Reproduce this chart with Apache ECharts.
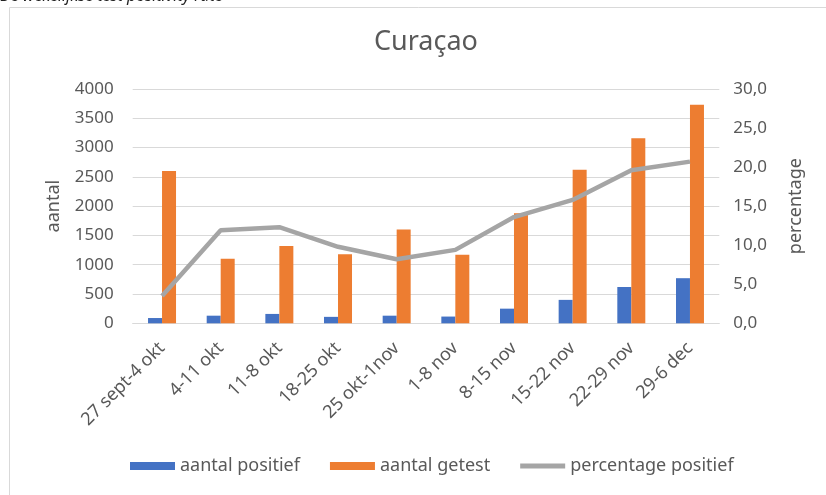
<!DOCTYPE html>
<html>
<head>
<meta charset="utf-8">
<script src="https://cdn.jsdelivr.net/npm/echarts@6/dist/echarts.min.js"></script>
<style>html,body{margin:0;padding:0;background:#fff}#c{width:826px;height:495px}</style>
</head>
<body>
<div id="c"></div>
<script>
const categories = ['27 sept-4 okt','4-11 okt','11-8 okt','18-25 okt','25 okt-1nov','1-8 nov','8-15 nov','15-22 nov','22-29 nov','29-6 dec'];
const aantalPositief = [90,130,160,110,130,115,250,400,620,770];
const aantalGetest = [2600,1100,1320,1180,1600,1170,1880,2620,3160,3730];
const percentagePositief = [3.5,11.9,12.3,9.8,8.2,9.4,13.6,15.8,19.6,20.7];
const leftTicks = {min:0,max:4000,interval:500};
const rightTicks = {min:0,max:30,interval:5};

const FONT = '"Noto Sans", "Open Sans", sans-serif';
const TXT = '#595959';
const chart = echarts.init(document.getElementById('c'));
chart.setOption({
  animation:false,
  textStyle:{fontFamily:FONT},
  title:{text:'Curaçao',left:369,top:24,textStyle:{fontFamily:FONT,fontSize:27,fontWeight:'normal',color:TXT}},
  graphic:[
    {type:'rect',shape:{x:9.5,y:7.5,width:830,height:500},style:{fill:'none',stroke:'#d9d9d9',lineWidth:1},silent:true},
    {type:'text',left:0,top:-12,style:{text:'De wekelijkse test positivity rate',font:'italic 16px '+FONT,fill:'#222'},silent:true}
  ],
  grid:{left:132.7,right:106.7,top:89,bottom:171.7},
  legend:{
    top:452,left:125,itemGap:30,itemWidth:45,itemHeight:8,
    textStyle:{fontSize:18,color:TXT,fontFamily:FONT},
    data:[
      {name:'aantal positief',icon:'rect'},
      {name:'aantal getest',icon:'rect'},
      {name:'percentage positief',icon:'path://M0,0h45v5h-45z'}
    ]
  },
  xAxis:{
    type:'category',data:categories,
    axisLine:{lineStyle:{color:'#d9d9d9'}},axisTick:{show:false},
    axisLabel:{rotate:45,fontSize:18,color:TXT,margin:22,interval:0}
  },
  yAxis:[
    {type:'value',min:leftTicks.min,max:leftTicks.max,interval:leftTicks.interval,
     name:'aantal',nameLocation:'middle',nameGap:70,nameRotate:90,nameMoveOverlap:false,
     nameTextStyle:{fontSize:18,color:TXT},
     axisLabel:{fontSize:17,color:TXT,margin:19,formatter:v=>String(v)},
     axisLine:{show:false},axisTick:{show:false},
     splitLine:{lineStyle:{color:'#d9d9d9'}}},
    {type:'value',min:rightTicks.min,max:rightTicks.max,interval:rightTicks.interval,
     name:'percentage',nameLocation:'middle',nameGap:68,nameRotate:90,nameMoveOverlap:false,
     nameTextStyle:{fontSize:18,color:TXT},
     axisLabel:{fontSize:17,color:TXT,margin:14,formatter:v=>v.toFixed(1).replace('.',',')},
     axisLine:{show:false},axisTick:{show:false},splitLine:{show:false}}
  ],
  series:[
    {name:'aantal positief',type:'bar',data:aantalPositief,barWidth:14,barGap:'0%',itemStyle:{color:'#4472C4'}},
    {name:'aantal getest',type:'bar',data:aantalGetest,barWidth:14,barGap:'0%',itemStyle:{color:'#ED7D31'}},
    {name:'percentage positief',type:'line',yAxisIndex:1,data:percentagePositief,showSymbol:false,symbol:'none',
     lineStyle:{color:'#A5A5A5',width:4.5},itemStyle:{color:'#A5A5A5'}}
  ]
});
</script>
</body>
</html>
